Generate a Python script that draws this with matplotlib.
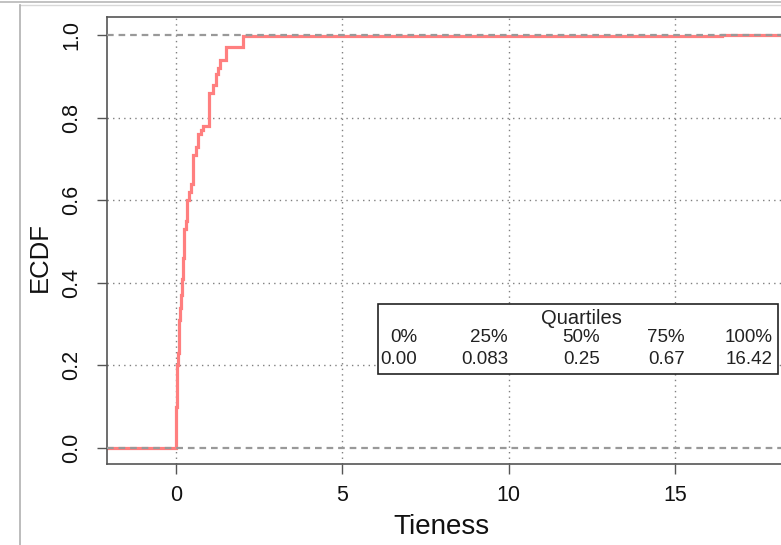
import numpy as np
import matplotlib
matplotlib.use("Agg")
import matplotlib.pyplot as plt
from matplotlib.patches import Rectangle
from matplotlib.lines import Line2D

plt.rcParams['font.family'] = ['Liberation Sans', 'DejaVu Sans']

# Distinct Tieness values and how many observations take each value (read from the ECDF steps)
tie_values = [0.0, 0.01, 0.03, 0.05, 0.083, 0.1, 0.125, 0.143, 0.167, 0.2, 0.25, 0.3,
              0.333, 0.4, 0.45, 0.5, 0.6, 0.667, 0.75, 0.8, 1.0, 1.1, 1.2, 1.25, 1.33,
              1.5, 2.0, 16.42]
tie_counts = [14, 26, 40, 12, 12, 20, 12, 12, 16, 20, 28, 8,
              20, 8, 8, 28, 8, 12, 4, 4, 32, 8, 10, 6, 8,
              12, 11, 1]

quartile_headers = ["0%", "25%", "50%", "75%", "100%"]
quartile_labels = ["0.00", "0.083", "0.25", "0.67", "16.42"]

x_ticks = [0, 5, 10, 15]
y_ticks = [0.0, 0.2, 0.4, 0.6, 0.8, 1.0]
y_ticklabels = ["0.0", "0.2", "0.4", "0.6", "0.8", "1.0"]

W, H = 781, 545
fig = plt.figure(figsize=(W / 100, H / 100), dpi=100)

# screenshot frame lines
fig.add_artist(Line2D([0, 1], [1 - 1.5 / H, 1 - 1.5 / H], transform=fig.transFigure,
                      color='#b8b8b8', lw=1.2))
fig.add_artist(Line2D([20 / W, 1], [1 - 5 / H, 1 - 5 / H], transform=fig.transFigure,
                      color='#d8d8d8', lw=1.0))
fig.add_artist(Line2D([20 / W, 20 / W], [0, 1 - 5 / H], transform=fig.transFigure,
                      color='#b0b0b0', lw=1.2))

left, right, top, bottom = 107, 792, 17, 464
ax = fig.add_axes([left / W, (H - bottom) / H, (right - left) / W, (bottom - top) / H])
ax.set_xlim(-2.074, 18.52)
ax.set_ylim(-0.0387, 1.0436)

vals = np.array(tie_values)
cnts = np.array(tie_counts)
F = np.cumsum(cnts) / cnts.sum()
xs = np.concatenate([[-10], vals, [30]])
ys = np.concatenate([[0], F, [1]])

# grid
for xv in x_ticks:
    ax.axvline(xv, color='#808080', lw=1.0, ls=(0, (1, 3)), zorder=1)
for yv in y_ticks[1:-1]:
    ax.axhline(yv, color='#808080', lw=1.0, ls=(0, (1, 3)), zorder=1)

ax.plot(xs, ys, drawstyle='steps-post', color='#ff7f7f', lw=2.3, zorder=2,
        solid_joinstyle='miter')

for yv in (0, 1):
    ax.axhline(yv, color='#999999', lw=1.6, ls=(0, (3, 2.2)), zorder=3)

for s in ax.spines.values():
    s.set_color('#555555')
    s.set_linewidth(1.2)

ax.set_xticks(x_ticks)
ax.set_xticklabels([str(t) for t in x_ticks])
ax.set_yticks(y_ticks)
ax.set_yticklabels(y_ticklabels, rotation=90, va='center')
ax.tick_params(axis='both', direction='out', length=7, width=1.0, color='#555555',
               labelsize=15.5, labelcolor='#111111')
ax.tick_params(axis='x', pad=8)
ax.tick_params(axis='y', pad=11)

ax.set_xlabel("Tieness", fontsize=20, color='#111111')
ax.set_ylabel("ECDF", fontsize=18.5, color='#111111')
ax.xaxis.set_label_coords((441 - left) / (right - left), (bottom - 514) / (bottom - top))
ax.yaxis.set_label_coords((52 - left) / (right - left), (bottom - 257) / (bottom - top))

def ax_frac(px, py):
    return ((px - left) / (right - left), (bottom - py) / (bottom - top))

# quartile legend box
bx0, by0 = ax_frac(378, 374)
bx1, by1 = ax_frac(778, 304)
ax.add_patch(Rectangle((bx0, by0), bx1 - bx0, by1 - by0, transform=ax.transAxes,
                       facecolor='white', edgecolor='#222222', lw=1.2, zorder=5))
tx, ty = ax_frac(581, 318)
ax.text(tx, ty, "Quartiles", transform=ax.transAxes, ha='center', va='center',
        fontsize=14.5, color='#222222', zorder=6)
col_right = [417, 508, 600, 685, 773]
for cr, hdr, lab in zip(col_right, quartile_headers, quartile_labels):
    hx, hy = ax_frac(cr, 338)
    ax.text(hx, hy, hdr, transform=ax.transAxes, ha='right', va='center',
            fontsize=13.5, color='#222222', zorder=6)
    vx, vy = ax_frac(cr, 360)
    ax.text(vx, vy, lab, transform=ax.transAxes, ha='right', va='center',
            fontsize=13.5, color='#222222', zorder=6)

fig.savefig("out.png", dpi=100)
